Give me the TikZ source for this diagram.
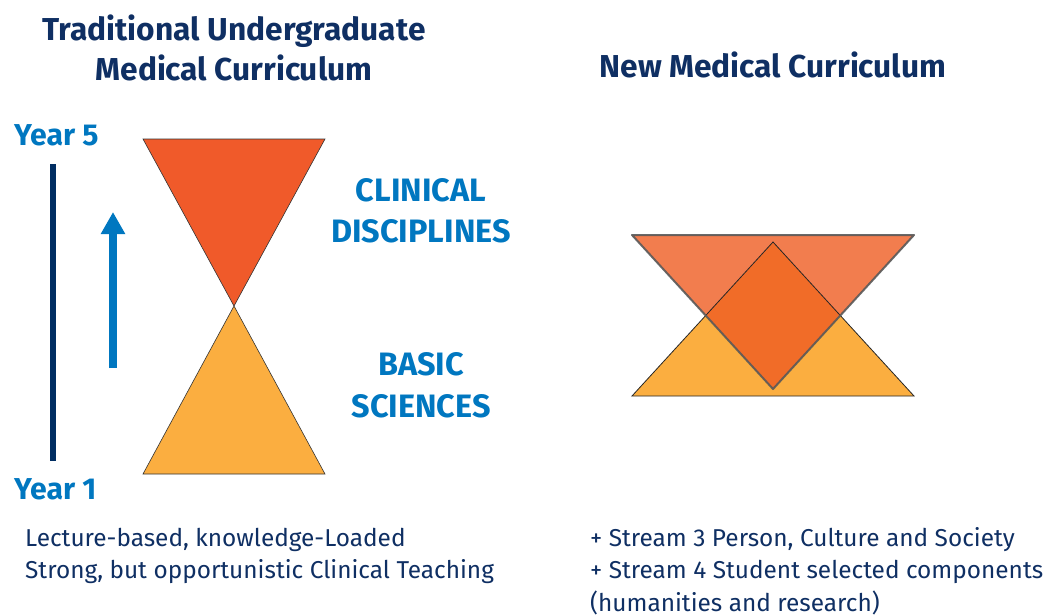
\documentclass[tikz,border=0pt]{standalone}
\usepackage{fontspec}
\setmainfont{Fira Sans}
\usetikzlibrary{arrows.meta}
\definecolor{navy}{HTML}{0F2F63}
\definecolor{lineNavy}{HTML}{002D62}
\definecolor{blueC}{HTML}{0077C0}
\definecolor{redO}{HTML}{F05A2A}
\definecolor{yelO}{HTML}{FBAE40}
\definecolor{topO}{HTML}{EF5C22}
\tikzset{
  title/.style={font=\fontsize{31.7}{40}\selectfont\bfseries, text=navy, align=center, inner sep=0pt},
  label/.style={font=\fontsize{32.4}{41}\selectfont\bfseries, text=blueC, align=center, inner sep=0pt},
  year/.style={font=\fontsize{30.2}{32}\selectfont\bfseries, text=blueC, inner sep=0pt, anchor=base west},
  body/.style={font=\fontsize{24.4}{32.5}\selectfont, text=navy, align=left, inner sep=0pt, anchor=base west},
  tri/.style={draw=black!80, line width=0.6pt},
}
\begin{document}
\begin{tikzpicture}[x=1pt,y=-1pt]
\useasboundingbox (0,0) rectangle (1045,616);
% titles
\node[title, anchor=base] (t1) at (234,80) {Traditional Undergraduate\\Medical Curriculum};
\node[title, anchor=base] (t2) at (773,77) {New Medical Curriculum};
% years
\node[year] (y5) at (14,145) {Year 5};
\node[year] (y1) at (14,499) {Year 1};
% timeline bar
\coordinate (barT) at (53,164);
\coordinate (barB) at (53,461);
\draw[lineNavy, line width=6pt] (barT) -- (barB);
% arrow
\coordinate (arB) at (113,368);
\coordinate (arT) at (113,212);
\draw[blueC, line width=8pt, -{Triangle[length=22pt,width=23pt]}] (arB) -- (arT);
% hourglass
\fill[redO] (143,139) -- (325,139) -- (234,306) -- cycle;
\draw[tri] (143,139) -- (325,139) -- (234,306) -- cycle;
\fill[yelO] (143,474) -- (325,474) -- (234,306) -- cycle;
\draw[tri] (143,474) -- (325,474) -- (234,306) -- cycle;
% labels
\node[label, anchor=base] (cd) at (421,242) {CLINICAL\\DISCIPLINES};
\node[label, anchor=base, font=\fontsize{32.4}{42}\selectfont\bfseries] (bs) at (421,417) {BASIC\\SCIENCES};
% new curriculum figure
\fill[yelO] (632,396) -- (914,396) -- (773,242) -- cycle;
\fill[topO, fill opacity=0.8] (632,235) -- (914,235) -- (773,389) -- cycle;
\draw[black!85, line width=0.8pt] (632,396) -- (914,396) -- (773,242) -- cycle;
\draw[black!65, line width=2pt, draw opacity=0.9, line join=round] (632,235) -- (914,235) -- (773,389) -- cycle;
% body text
\node[body] (l1) at (25,578.5) {Lecture-based, knowledge-Loaded\\Strong, but opportunistic Clinical Teaching};
\node[body] (r1) at (590,611) {+ Stream 3 Person, Culture and Society\\+ Stream 4 Student selected components\\(humanities and research)};
\end{tikzpicture}
\end{document}
